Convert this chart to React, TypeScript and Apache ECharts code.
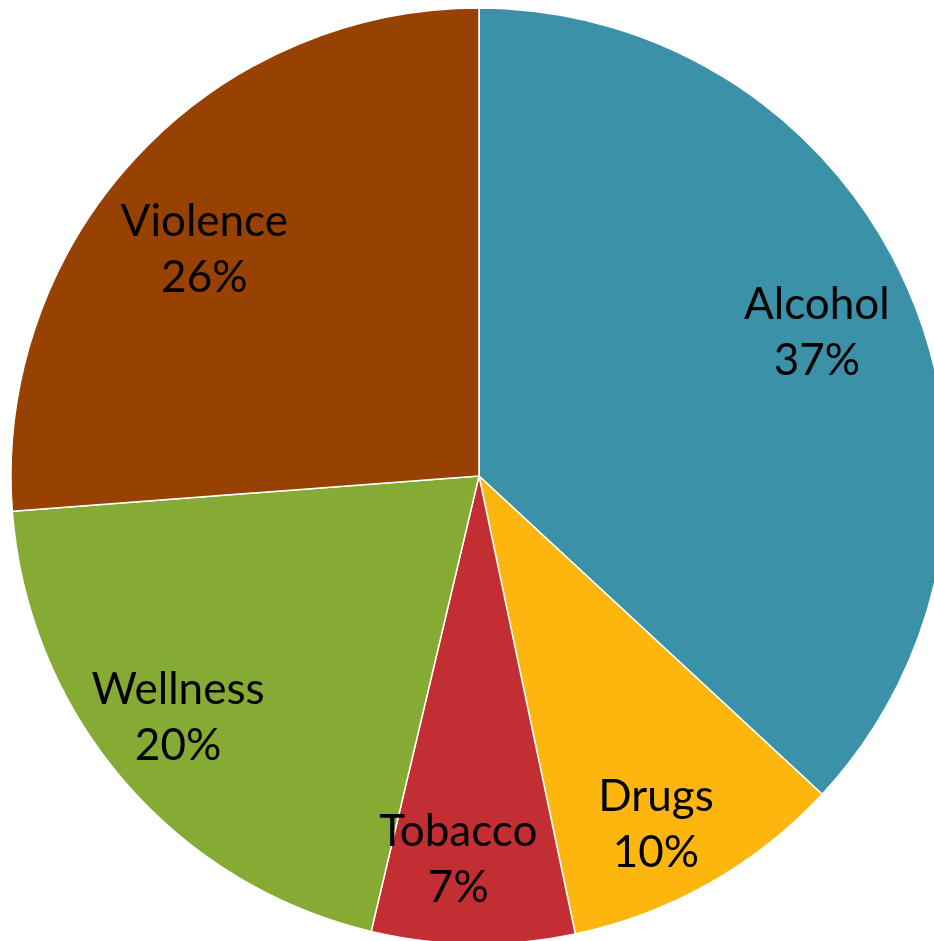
import React, { useEffect, useRef } from "react";
import * as echarts from "echarts";

const categories = ["Alcohol", "Drugs", "Tobacco", "Wellness", "Violence"];
const values = [36.9, 9.8, 7.0, 20.1, 26.2];
const colors = ["#3A91A8", "#FDB60E", "#C22E31", "#86AB35", "#974203"];
// small label nudges (px) to mimic the original label placement
const labelNudge: [number, number][] = [
  [-8, 5],
  [-9, 18],
  [-16, 4],
  [-14, -6],
  [2, 28],
];

export default function App() {
  const ref = useRef<HTMLDivElement>(null);
  useEffect(() => {
    if (!ref.current) return;
    const chart = echarts.init(ref.current, null, { renderer: "svg" });
    const data = categories.map((c, i) => ({
      name: c,
      value: values[i],
      itemStyle: { color: colors[i] },
    }));
    const R = 468;
    const C = [479, 476];
    chart.setOption({
      animation: false,
      series: [
        {
          type: "pie",
          center: C,
          radius: [0, R],
          startAngle: 90,
          clockwise: true,
          silent: true,
          label: { show: false },
          labelLine: { show: false },
          itemStyle: { borderColor: "#ffffff", borderWidth: 1.5 },
          data,
        },
        {
          type: "pie",
          center: C,
          radius: [R * 0.6, R],
          startAngle: 90,
          clockwise: true,
          silent: true,
          itemStyle: { color: "transparent", borderWidth: 0 },
          label: {
            show: true,
            position: "inside",
            formatter: (p: any) => `${p.name}\n${Math.round(p.percent)}%`,
            color: "#000000",
            fontFamily: "Lato",
            fontSize: 44,
            lineHeight: 56,
            align: "center",
          },
          labelLayout: (p: any) => ({
            dx: labelNudge[p.dataIndex][0],
            dy: labelNudge[p.dataIndex][1],
          }),
          labelLine: { show: false },
          data: categories.map((c, i) => ({ name: c, value: values[i] })),
        },
      ],
    });
    return () => chart.dispose();
  }, []);
  return (
    <div
      ref={ref}
      style={{ position: "fixed", left: 0, top: 0, width: 934, height: 941 }}
    />
  );
}
